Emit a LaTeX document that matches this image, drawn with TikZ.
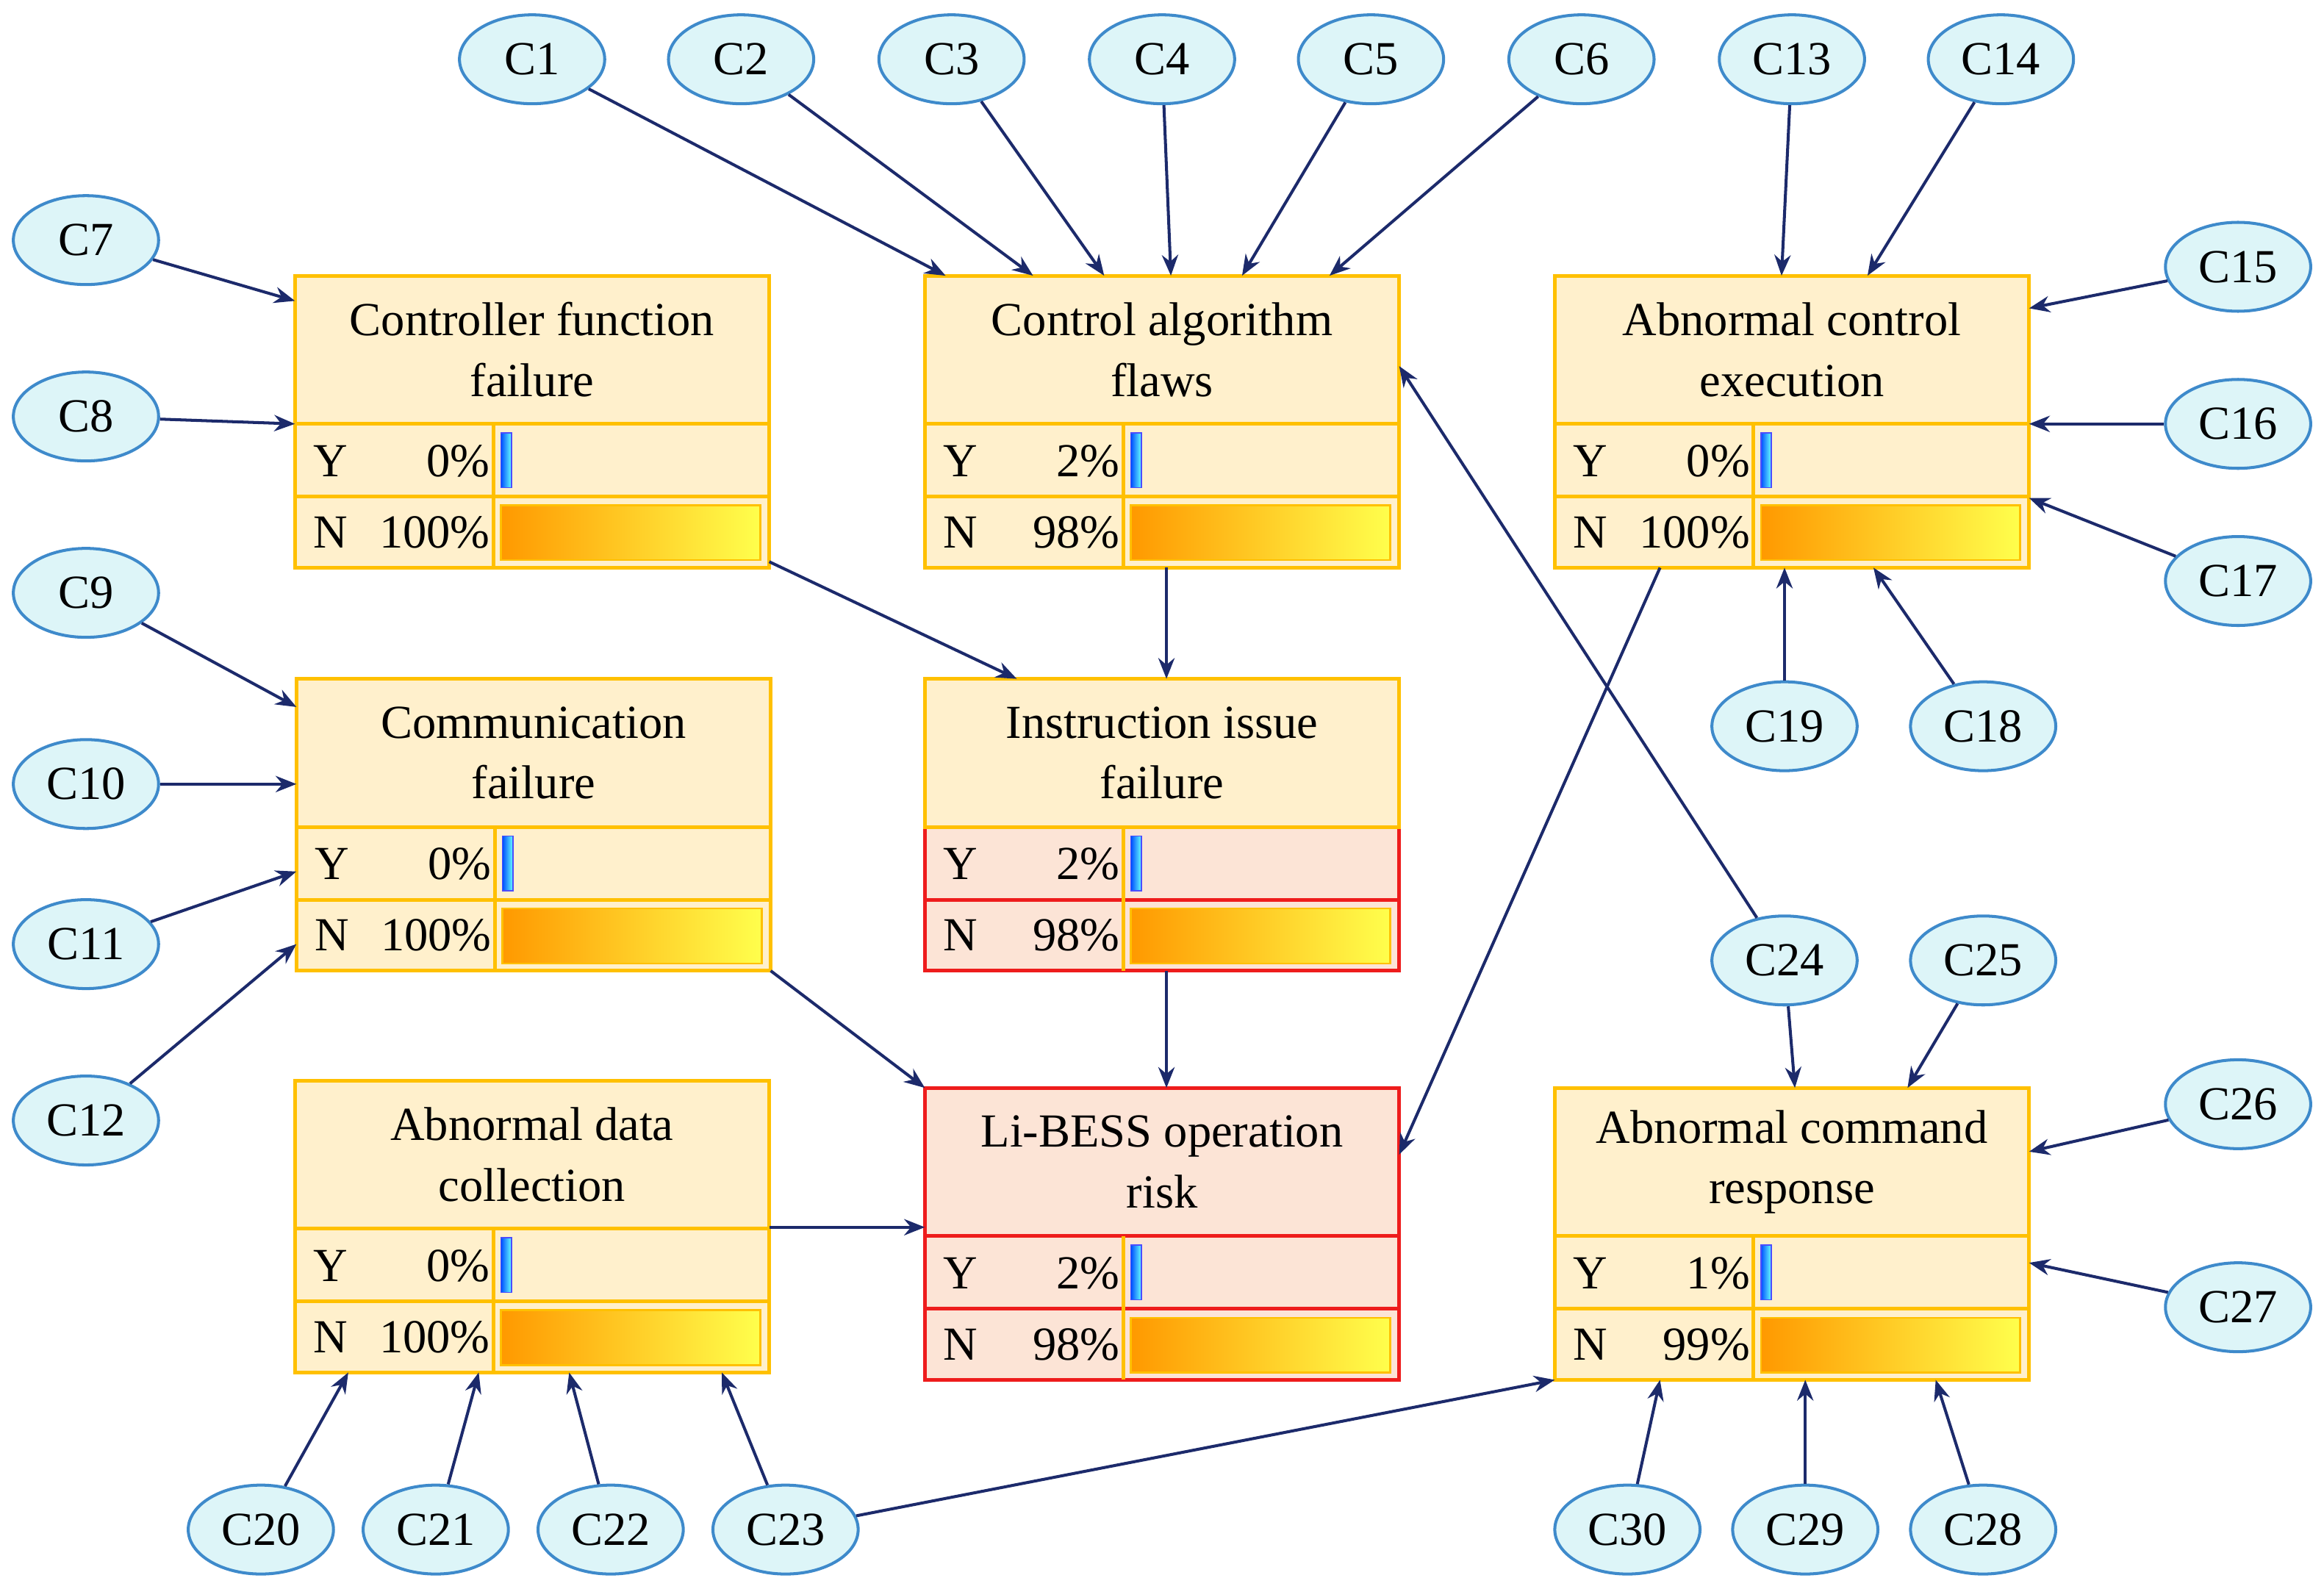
\documentclass[tikz,border=0pt]{standalone}
\usepackage{fontspec}
\setmainfont{Liberation Serif}
\usetikzlibrary{calc,arrows.meta,shapes.geometric}
\definecolor{boxfill}{HTML}{FFF0CC}
\definecolor{boxline}{HTML}{FFC000}
\definecolor{pinkfill}{HTML}{FCE4D6}
\definecolor{redline}{HTML}{EE1C1C}
\definecolor{ellfill}{HTML}{DDF5F8}
\definecolor{ellline}{HTML}{3E8ACB}
\definecolor{navy}{HTML}{1C2A6B}
\newcommand\bnbox[8]{%
\node[box,#7,anchor=north west] (#1) at (#2,#3) {};
\node[ttext] at ({#2+160},{#3+50}) {#4};
\draw[#8] (#2,{#3+100}) rectangle ({#2+320},{#3+149});
\draw[#8] (#2,{#3+149}) rectangle ({#2+320},{#3+197});
\draw[#7,fill=none] (#2,#3) rectangle ({#2+320},{#3+100});
\draw[boxline,line width=1.2pt] ({#2+134},{#3+100}) -- ({#2+134},{#3+197});
\node[rtext,anchor=west] at ({#2+12},{#3+125}) {Y};
\node[rtext,anchor=east] at ({#2+132},{#3+125}) {#5};
\node[rtext,anchor=west] at ({#2+12},{#3+173}) {N};
\node[rtext,anchor=east] at ({#2+132},{#3+173}) {#6};
\shade[left color=blue!70!cyan,right color=cyan!60] ({#2+139},{#3+106}) rectangle ({#2+146},{#3+143});
\draw[blue!70,line width=0.4pt] ({#2+139},{#3+106}) rectangle ({#2+146},{#3+143});
\shade[left color=orange!80!yellow,right color=yellow!70] ({#2+139},{#3+155}) rectangle ({#2+314},{#3+192});
\draw[boxline,line width=0.6pt] ({#2+139},{#3+155}) rectangle ({#2+314},{#3+192});
}
\begin{document}
\begin{tikzpicture}[x=0.5pt,y=-0.5pt,
 box/.style={minimum width=160pt,minimum height=98.5pt,inner sep=0pt,outer sep=0pt,line width=1.2pt},
 yel/.style={fill=boxfill,draw=boxline,line width=1.2pt},
 pnk/.style={fill=pinkfill,draw=redline,line width=1.2pt},
 ttext/.style={align=center,font=\fontsize{16}{20.5}\selectfont,inner sep=0pt},
 rtext/.style={font=\fontsize{16}{19}\selectfont,inner sep=0pt},
 ell/.style={ellipse,fill=ellfill,draw=ellline,line width=1pt,minimum width=49pt,minimum height=30pt,inner sep=0pt,font=\fontsize{16}{19}\selectfont},
 arr/.style={draw=navy,line width=1pt,-{Stealth[length=7pt,width=5.5pt]}}]
\useasboundingbox (0,0) rectangle (1568,1072);
\bnbox{cf}{199}{186}{Controller function\\failure}{0\%}{100\%}{yel}{yel}
\bnbox{ca}{624}{186}{Control algorithm\\flaws}{2\%}{98\%}{yel}{yel}
\bnbox{ac}{1049}{186}{Abnormal control\\execution}{0\%}{100\%}{yel}{yel}
\bnbox{cm}{200}{458}{Communication\\failure}{0\%}{100\%}{yel}{yel}
\bnbox{ii}{624}{458}{Instruction issue\\failure}{2\%}{98\%}{yel}{pnk}
\bnbox{ad}{199}{729}{Abnormal data\\collection}{0\%}{100\%}{yel}{yel}
\bnbox{li}{624}{734}{Li-BESS operation\\risk}{2\%}{98\%}{pnk}{pnk}
\bnbox{ar}{1049}{734}{Abnormal command\\response}{1\%}{99\%}{yel}{yel}
\foreach \n/\x/\y in {1/359/40,2/500/40,3/642/40,4/784/40,5/925/40,6/1067/40,13/1209/40,14/1350/40,
 7/58/162,8/58/281,9/58/400,10/58/529,11/58/637,12/58/756,
 15/1510/180,16/1510/286,17/1510/392,19/1204/490,18/1338/490,
 24/1204/648,25/1338/648,26/1510/745,27/1510/882,
 20/176/1032,21/294/1032,22/412/1032,23/530/1032,30/1098/1032,29/1218/1032,28/1338/1032}
 \node[ell] (c\n) at (\x,\y) {C\n};
% to control algorithm flaws
\draw[arr] (c1) -- ($(ca.north west)+(14,0)$);
\draw[arr] (c2) -- ($(ca.north west)+(73,0)$);
\draw[arr] (c3) -- ($(ca.north west)+(121,0)$);
\draw[arr] (c4) -- ($(ca.north west)+(166,0)$);
\draw[arr] (c5) -- ($(ca.north west)+(214,0)$);
\draw[arr] (c6) -- ($(ca.north west)+(273,0)$);
% controller function / communication
\draw[arr] (c7) -- ($(cf.north west)+(0,17)$);
\draw[arr] (c8) -- ($(cf.north west)+(0,100)$);
\draw[arr] (c9) -- ($(cm.north west)+(0,19)$);
\draw[arr] (c10) -- ($(cm.north west)+(0,71)$);
\draw[arr] (c11) -- ($(cm.north west)+(0,130)$);
\draw[arr] (c12) -- ($(cm.north west)+(0,179)$);
% abnormal control execution
\draw[arr] (c13) -- ($(ac.north west)+(153,0)$);
\draw[arr] (c14) -- ($(ac.north west)+(211,0)$);
\draw[arr] (c15) -- ($(ac.north east)+(0,22)$);
\draw[arr] (c16) -- ($(ac.north east)+(0,100)$);
\draw[arr] (c17) -- ($(ac.north east)+(0,150)$);
\draw[arr] (c19) -- ($(ac.south west)+(155,0)$);
\draw[arr] (c18) -- ($(ac.south west)+(215,0)$);
% internal
\draw[arr] ($(cf.south east)+(0,-4)$) -- ($(ii.north west)+(62,0)$);
\draw[arr] ($(ca.south west)+(163,0)$) -- ($(ii.north west)+(163,0)$);
\draw[arr] ($(ii.south west)+(163,0)$) -- ($(li.north west)+(163,0)$);
\draw[arr] (cm.south east) -- (li.north west);
\draw[arr] ($(ad.north east)+(0,99)$) -- ($(li.north west)+(0,94)$);
\draw[arr] ($(ac.south west)+(71,0)$) -- ($(li.north east)+(0,45)$);
\draw[arr] (c24) -- ($(ca.north east)+(0,61)$);
% abnormal command response
\draw[arr] (c24) -- ($(ar.north west)+(162,0)$);
\draw[arr] (c25) -- ($(ar.north west)+(238,0)$);
\draw[arr] (c26) -- ($(ar.north east)+(0,43)$);
\draw[arr] (c27) -- ($(ar.north east)+(0,118)$);
\draw[arr] (c28) -- ($(ar.south west)+(257,0)$);
\draw[arr] (c29) -- ($(ar.south west)+(169,0)$);
\draw[arr] (c30) -- ($(ar.south west)+(71,0)$);
\draw[arr] (c23) -- (ar.south west);
% abnormal data collection
\draw[arr] (c20) -- ($(ad.south west)+(36,0)$);
\draw[arr] (c21) -- ($(ad.south west)+(124,0)$);
\draw[arr] (c22) -- ($(ad.south west)+(185,0)$);
\draw[arr] (c23) -- ($(ad.south west)+(288,0)$);
\end{tikzpicture}
\end{document}
